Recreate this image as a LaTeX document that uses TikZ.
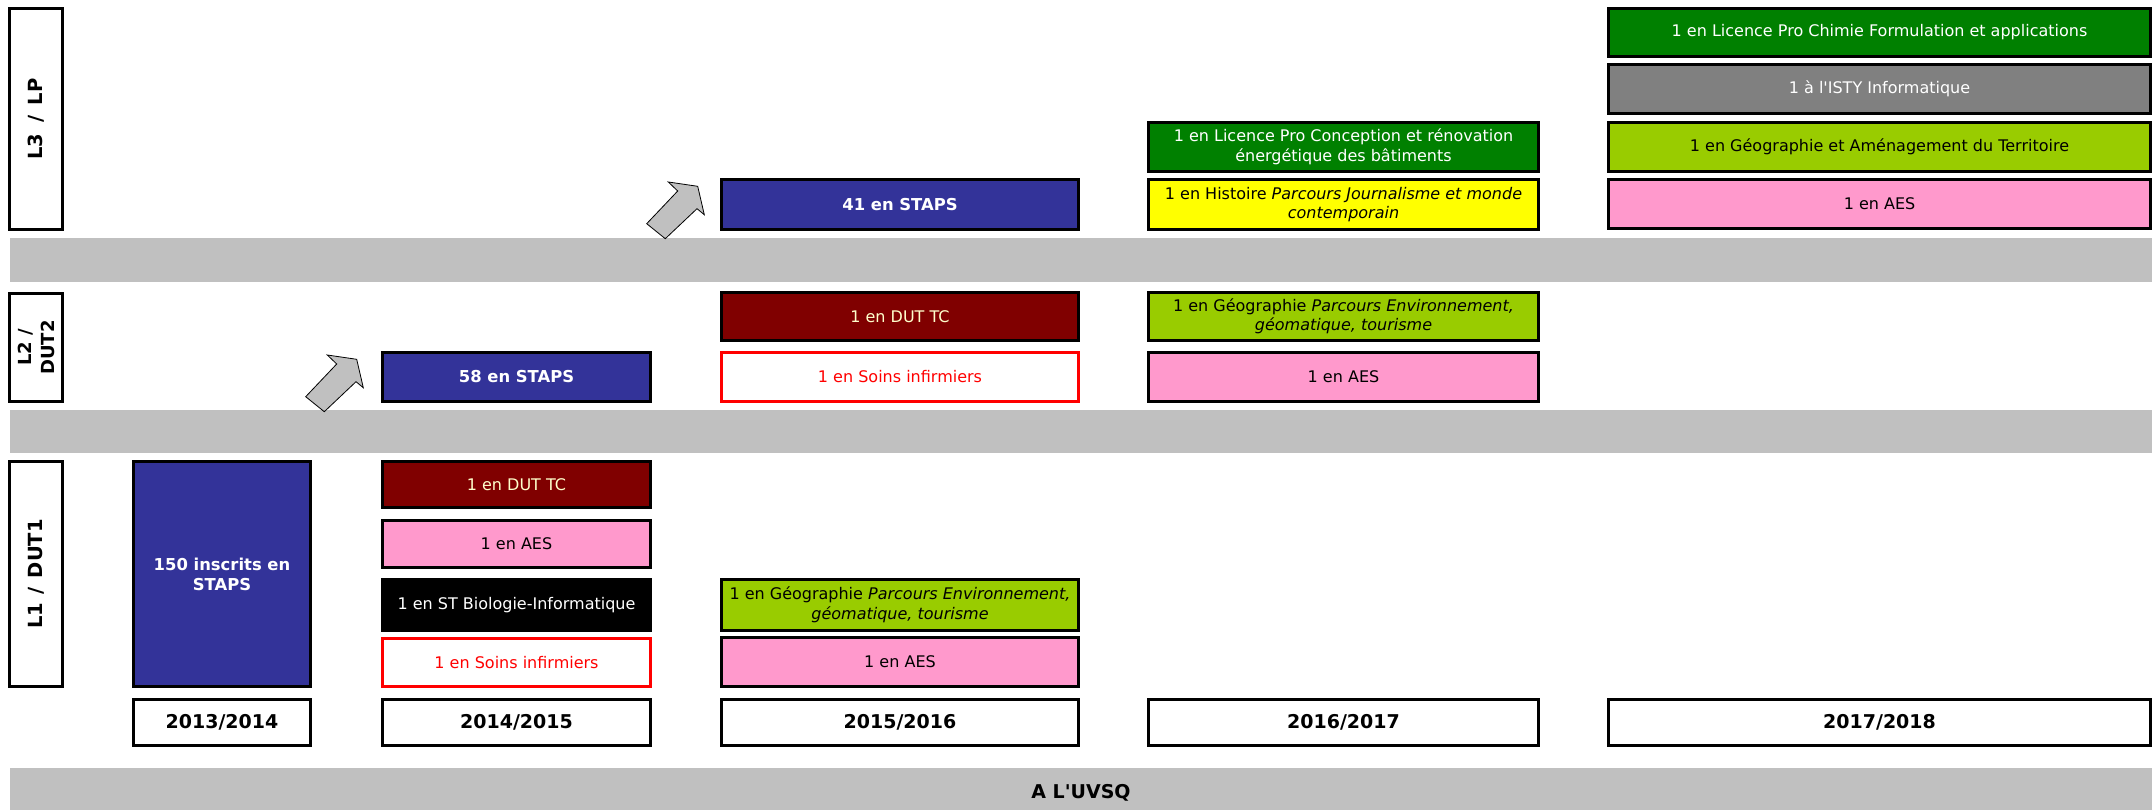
\documentclass[tikz,border=0pt]{standalone}
\usepackage{fontspec}
\setmainfont{DejaVu Sans}
\definecolor{navy}{HTML}{333399}
\definecolor{darkred}{HTML}{800000}
\definecolor{cream}{HTML}{FFFFCC}
\definecolor{pinkbox}{HTML}{FF99CC}
\definecolor{limegreen}{HTML}{99CC00}
\definecolor{greenbox}{HTML}{008000}
\definecolor{graybox}{HTML}{808080}
\definecolor{yellowbox}{HTML}{FFFF00}
\definecolor{band}{HTML}{C0C0C0}
\definecolor{redline}{HTML}{FF0000}
\newcommand\mybox[7]{\node[#6, minimum width={#4-#2-3}, minimum height={#5-#3-3}] (#1) at ({(#2+#4)/2},{(#3+#5)/2}) {#7};}
\tikzset{
  x=1pt, y=-1pt,
  bx/.style={draw=black, line width=3pt, inner sep=0pt, align=center,
    font=\fontsize{16}{19.5}\selectfont},
  bxb/.style={bx, font=\fontsize{16.4}{20}\selectfont\bfseries},
  yearbox/.style={bx, fill=white, font=\fontsize{19}{22}\selectfont\bfseries},
  levelbox/.style={draw=black, line width=3pt, fill=white, inner sep=0pt},
  labtext/.style={inner sep=0pt, align=center, font=\fontsize{19.5}{23}\selectfont\bfseries},
  bandbox/.style={fill=band, draw=none, inner sep=0pt},
  bandtext/.style={inner sep=0pt, font=\fontsize{19}{22}\selectfont\bfseries},
  staps/.style={bxb, fill=navy, text=white},
  dut/.style={bx, fill=darkred, text=cream},
  aes/.style={bx, fill=pinkbox, text=black},
  soins/.style={bx, draw=redline, fill=white, text=redline},
  geo/.style={bx, fill=limegreen, text=black},
  lp/.style={bx, fill=greenbox, text=white},
  isty/.style={bx, fill=graybox, text=white},
  hist/.style={bx, fill=yellowbox, text=black},
  stbio/.style={bx, fill=black, text=white},
  uparrow/.style={fill=band, draw=black, line width=0.8pt, line join=miter},
}
\begin{document}
\begin{tikzpicture}
\useasboundingbox (0,0) rectangle (2154,810);
% bands
\node[bandbox, minimum width=2142, minimum height=44] (band1) at (1081,260) {};
\node[bandbox, minimum width=2142, minimum height=43] (band2) at (1081,431.5) {};
\node[bandbox, minimum width=2142, minimum height=42] (band3) at (1081,789) {};
\node[bandtext] (uvsq) at (1081,793) {A L\textquotesingle UVSQ};
% level labels
\node[levelbox, minimum width=56-3, minimum height=224-3] (lv3) at (36,119) {};
\node[labtext, rotate=90] (lv3t) at (lv3.center) {L3\hspace{0.55em}/\hspace{0.55em}LP};
\node[levelbox, minimum width=56-3, minimum height=111-3] (lv2) at (36,347.5) {};
\node[labtext, rotate=90, font=\fontsize{18}{23}\selectfont\bfseries] (lv2t) at (lv2.center) {L2 /\\DUT2};
\node[levelbox, minimum width=56-3, minimum height=228-3] (lv1) at (36,574) {};
\node[labtext, rotate=90] (lv1t) at (lv1.center) {L1\hspace{0.45em}/\hspace{0.45em}DUT1};
% years
\mybox{y1}{132}{698}{312}{747}{yearbox}{2013/2014}
\mybox{y2}{381}{698}{652}{747}{yearbox}{2014/2015}
\mybox{y3}{720}{698}{1080}{747}{yearbox}{2015/2016}
\mybox{y4}{1147}{698}{1540}{747}{yearbox}{2016/2017}
\mybox{y5}{1607}{698}{2152}{747}{yearbox}{2017/2018}
% 2013/2014
\mybox{a1}{132}{460}{312}{688}{staps}{150 inscrits en\\STAPS}
% 2014/2015
\mybox{b1}{381}{460}{652}{509}{dut}{1 en DUT TC}
\mybox{b2}{381}{519}{652}{569}{aes}{1 en AES}
\mybox{b3}{381}{578}{652}{632}{stbio}{1 en ST Biologie-Informatique}
\mybox{b4}{381}{637}{652}{688}{soins}{1 en Soins infirmiers}
\mybox{b5}{381}{351}{652}{403}{staps}{58 en STAPS}
% 2015/2016
\mybox{c1}{720}{178}{1080}{231}{staps}{41 en STAPS}
\mybox{c2}{720}{291}{1080}{342}{dut}{1 en DUT TC}
\mybox{c3}{720}{351}{1080}{403}{soins}{1 en Soins infirmiers}
\mybox{c4}{720}{578}{1080}{632}{geo}{1 en Géographie \textit{Parcours Environnement,}\\\textit{géomatique, tourisme}}
\mybox{c5}{720}{636}{1080}{688}{aes}{1 en AES}
% 2016/2017
\mybox{d1}{1147}{121}{1540}{173}{lp}{1 en Licence Pro Conception et rénovation\\énergétique des bâtiments}
\mybox{d2}{1147}{178}{1540}{231}{hist}{1 en Histoire \textit{Parcours Journalisme et monde}\\\textit{contemporain}}
\mybox{d3}{1147}{291}{1540}{342}{geo}{1 en Géographie \textit{Parcours Environnement,}\\\textit{géomatique, tourisme}}
\mybox{d4}{1147}{351}{1540}{403}{aes}{1 en AES}
% 2017/2018
\mybox{e1}{1607}{7}{2152}{58}{lp}{1 en Licence Pro Chimie Formulation et applications}
\mybox{e2}{1607}{63}{2152}{115}{isty}{1 à l\textquotesingle ISTY Informatique}
\mybox{e3}{1607}{121}{2152}{173}{geo}{1 en Géographie et Aménagement du Territoire}
\mybox{e4}{1607}{178}{2152}{230}{aes}{1 en AES}
% arrows
\draw[uparrow] (324.3,411.7) -- (305.7,396.7) -- (336.7,364) -- (327.3,355) -- (356.7,359.3) -- (363.3,387.7) -- (356,381.7) -- cycle;
\begin{scope}[shift={(341,-173)}]
\draw[uparrow] (324.3,411.7) -- (305.7,396.7) -- (336.7,364) -- (327.3,355) -- (356.7,359.3) -- (363.3,387.7) -- (356,381.7) -- cycle;
\end{scope}
\end{tikzpicture}
\end{document}
